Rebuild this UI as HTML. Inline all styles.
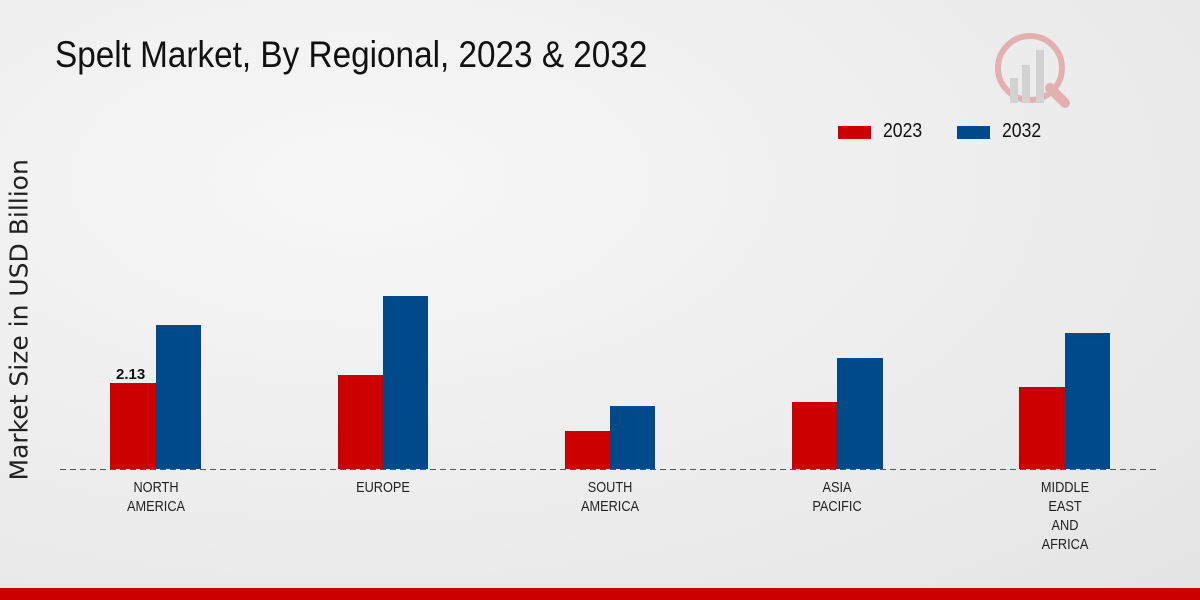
<!DOCTYPE html>
<html><head><meta charset="utf-8"><style>
html,body{margin:0;padding:0}
body{width:1200px;height:600px;overflow:hidden;position:relative;font-family:"Liberation Sans",sans-serif;background:radial-gradient(ellipse at 30% 30%,#f7f7f7 0%,#ececec 60%,#e4e4e4 100%)}
.t{position:absolute;white-space:nowrap;color:#111}
.bar{position:absolute}
.r{background:#cc0000}.b{background:#004a8b}
.lbl{position:absolute;text-align:center;font-size:15px;line-height:19px;color:#222;width:120px;transform:scaleX(0.85)}
</style></head><body>
<div class="t" style="left:55px;top:34px;font-size:37px;transform:scaleX(0.9);transform-origin:0 0">Spelt Market, By Regional, 2023 &amp; 2032</div>
<div class="t" style="left:-141px;top:306px;font-size:25px;transform:rotate(-90deg);width:320px;text-align:center;font-family:'DejaVu Sans',sans-serif;color:#222">Market Size in USD Billion</div>
<div class="bar r" style="left:838px;top:126px;width:33px;height:13px"></div>
<div class="t" style="left:883px;top:120px;font-size:20px;transform:scaleX(0.88);transform-origin:0 0">2023</div>
<div class="bar b" style="left:957px;top:126px;width:33px;height:13px"></div>
<div class="t" style="left:1002px;top:120px;font-size:20px;transform:scaleX(0.88);transform-origin:0 0">2032</div>
<svg style="position:absolute;left:0;top:0" width="1200" height="600">
<line x1="60" y1="469.5" x2="1160" y2="469.5" stroke="#555" stroke-dasharray="6,4" stroke-width="1"/>
<g opacity="0.25"><circle cx="1030" cy="68" r="32" fill="none" stroke="#c00" stroke-width="6"/><rect x="1010" y="78" width="8" height="25" fill="#888"/><rect x="1022" y="65" width="8" height="38" fill="#888"/><rect x="1036" y="50" width="8" height="53" fill="#888"/><line x1="1050" y1="88" x2="1065" y2="103" stroke="#c00" stroke-width="10" stroke-linecap="round"/></g>
</svg>
<div class="bar r" style="left:110px;top:383px;width:46px;height:86px"></div>
<div class="bar b" style="left:156px;top:325px;width:45px;height:144px"></div>
<div class="bar r" style="left:338px;top:375px;width:45px;height:94px"></div>
<div class="bar b" style="left:383px;top:296px;width:45px;height:173px"></div>
<div class="bar r" style="left:565px;top:431px;width:45px;height:38px"></div>
<div class="bar b" style="left:610px;top:406px;width:45px;height:63px"></div>
<div class="bar r" style="left:792px;top:402px;width:45px;height:67px"></div>
<div class="bar b" style="left:837px;top:358px;width:46px;height:111px"></div>
<div class="bar r" style="left:1019px;top:387px;width:46px;height:82px"></div>
<div class="bar b" style="left:1065px;top:333px;width:45px;height:136px"></div>
<div class="t" style="left:116px;top:366px;font-size:15px;font-weight:bold">2.13</div>
<div class="lbl" style="left:96px;top:478px">NORTH<br>AMERICA</div>
<div class="lbl" style="left:323px;top:478px">EUROPE</div>
<div class="lbl" style="left:550px;top:478px">SOUTH<br>AMERICA</div>
<div class="lbl" style="left:777px;top:478px">ASIA<br>PACIFIC</div>
<div class="lbl" style="left:1005px;top:478px">MIDDLE<br>EAST<br>AND<br>AFRICA</div>
<div style="position:absolute;left:0;top:588px;width:1200px;height:12px;background:#cc0000"></div>
</body></html>
